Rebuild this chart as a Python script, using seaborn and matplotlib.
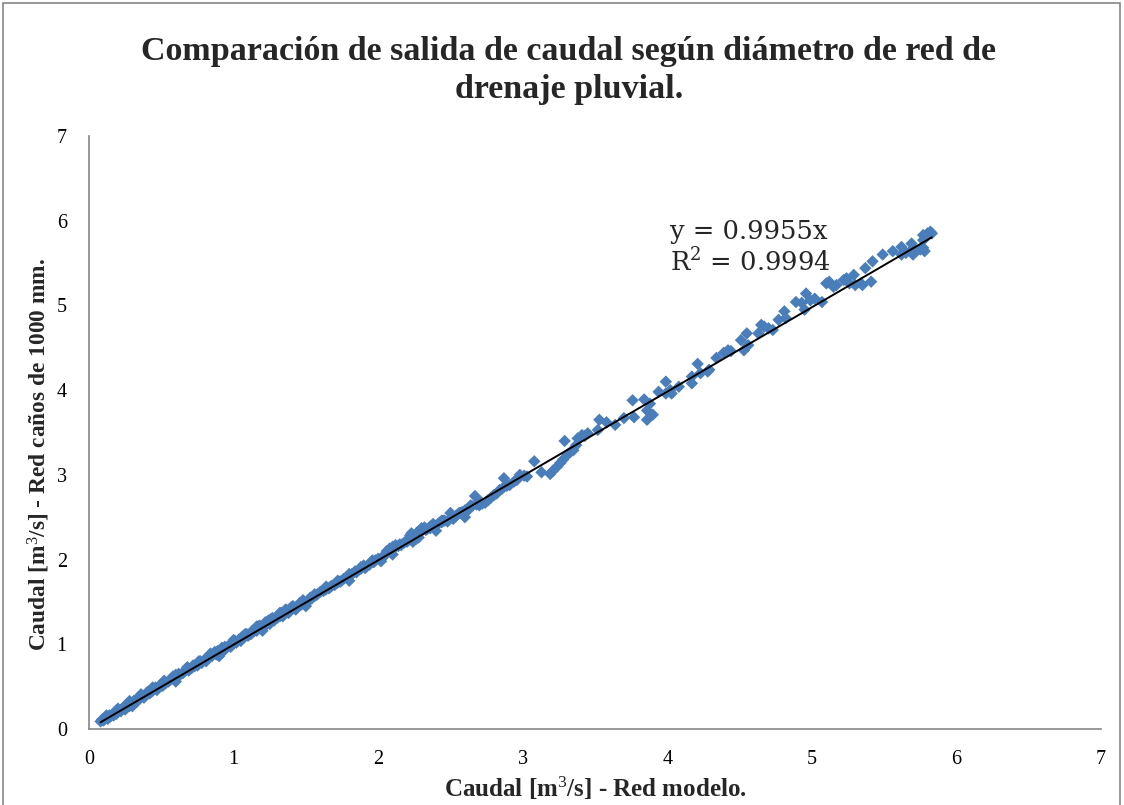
import numpy as np
import pandas as pd
import matplotlib
matplotlib.use("Agg")
import matplotlib.pyplot as plt
from matplotlib.patches import Rectangle
import seaborn as sns

# Caudal de salida: red modelo (x) frente a red con caños de 1000 mm (y), en m3/s
caudal_modelo = [
    0.08, 0.09, 0.10, 0.11, 0.12, 0.13, 0.14, 0.15, 0.16, 0.17, 0.18, 0.19, 0.20, 0.21,
    0.22, 0.23, 0.24, 0.25, 0.26, 0.27, 0.28, 0.30, 0.31, 0.32, 0.33, 0.35, 0.36, 0.38,
    0.39, 0.41, 0.42, 0.44, 0.45, 0.47, 0.48, 0.50, 0.51, 0.53, 0.55, 0.56, 0.58, 0.59,
    0.61, 0.63, 0.65, 0.66, 0.68, 0.69, 0.71, 0.73, 0.75, 0.76, 0.78, 0.80, 0.81, 0.83,
    0.85, 0.87, 0.88, 0.90, 0.92, 0.93, 0.95, 0.97, 0.98, 1.00, 1.02, 1.04, 1.05, 1.07,
    1.09, 1.10, 1.12, 1.14, 1.16, 1.18, 1.19, 1.21, 1.23, 1.25, 1.26, 1.28, 1.30, 1.32,
    1.34, 1.35, 1.37, 1.38, 1.40, 1.42, 1.43, 1.45, 1.47, 1.49, 1.51, 1.52, 1.54, 1.56,
    1.58, 1.60, 1.62, 1.64, 1.66, 1.68, 1.70, 1.72, 1.74, 1.76, 1.78, 1.80, 1.82, 1.84,
    1.86, 1.88, 1.90, 1.92, 1.94, 1.96, 1.98, 2.00, 2.02, 2.04, 2.06, 2.08, 2.10, 2.12,
    2.14, 2.16, 2.18, 2.20, 2.22, 2.23, 2.24, 2.26, 2.28, 2.30, 2.32, 2.34, 2.36, 2.38,
    2.40, 2.42, 2.44, 2.46, 2.48, 2.50, 2.52, 2.54, 2.56, 2.58, 2.60, 2.62, 2.63, 2.65,
    2.67, 2.68, 2.70, 2.72, 2.74, 2.76, 2.78, 2.80, 2.82, 2.84, 2.86,
    2.87, 2.89, 2.91, 2.94, 2.96, 2.98, 3.01, 3.03, 3.08, 3.13, 3.19, 3.21, 3.24, 3.26,
    3.28, 3.29, 3.31, 3.33, 3.35, 3.37, 3.38, 3.41, 3.43, 3.45, 3.52, 3.53, 3.58, 3.64,
    3.70, 3.76, 3.77, 3.84, 3.86, 3.86, 3.88, 3.90, 3.94, 3.99, 3.99, 4.02, 4.03, 4.08,
    4.17, 4.17, 4.21, 4.23, 4.28, 4.29, 4.34, 4.39, 4.42, 4.44, 4.51, 4.53, 4.55, 4.56,
    4.63, 4.65, 4.67, 4.70, 4.73, 4.77, 4.81, 4.82, 4.89, 4.93, 4.95, 4.96, 4.99, 5.02,
    5.07, 5.10, 5.12, 5.15, 5.17, 5.22, 5.24, 5.26, 5.29, 5.30, 5.34, 5.35, 5.41, 5.37,
    5.42, 5.49, 5.56, 5.62, 5.62, 5.65, 5.68, 5.69, 5.70, 5.72, 5.75, 5.77, 5.78, 5.77,
    5.79, 5.80, 5.82, 5.83, 5.77,
    # segunda pasada de la zona densa (eventos de menor caudal)
    0.10, 0.14, 0.19, 0.24, 0.29, 0.34, 0.40, 0.46, 0.52, 0.57, 0.62, 0.67, 0.72, 0.77,
    0.84, 0.89, 0.94, 1.01, 1.06, 1.13, 1.17, 1.22, 1.27, 1.33, 1.36, 1.41, 1.46, 1.53,
    1.57, 1.63, 1.67, 1.73, 1.79, 1.85, 1.91, 1.97, 2.03, 2.09, 2.15, 2.21, 2.27, 2.33,
    2.39, 2.45, 2.51, 2.57, 2.64, 2.71,
    # tercera pasada: borde superior e inferior de la nube
    0.12, 0.20, 0.28, 0.36, 0.44, 0.52, 0.60, 0.68, 0.76, 0.84, 0.92, 1.00, 1.08, 1.16,
    1.24, 1.32, 1.40, 1.48, 1.56, 1.64, 1.72, 1.80, 1.88, 1.96, 2.04, 2.12, 2.20, 2.28,
    2.36, 2.44, 2.52, 2.60,
    0.30, 0.60, 0.90, 1.20, 1.50, 1.80, 2.10, 2.40,
]
caudal_canos_1000 = [
    0.09, 0.11, 0.10, 0.12, 0.13, 0.12, 0.15, 0.15, 0.17, 0.16, 0.19, 0.18, 0.21, 0.22,
    0.21, 0.24, 0.25, 0.23, 0.27, 0.28, 0.27, 0.31, 0.33, 0.34, 0.32, 0.36, 0.38, 0.37,
    0.40, 0.44, 0.42, 0.45, 0.47, 0.46, 0.50, 0.53, 0.51, 0.54, 0.56, 0.58, 0.62, 0.59,
    0.62, 0.64, 0.66, 0.68, 0.72, 0.69, 0.72, 0.74, 0.75, 0.78, 0.78, 0.82, 0.80, 0.84,
    0.86, 0.91, 0.88, 0.91, 0.93, 0.92, 0.96, 0.99, 0.97, 1.01, 1.02, 1.06, 1.04, 1.08,
    1.12, 1.10, 1.12, 1.15, 1.16, 1.22, 1.19, 1.21, 1.24, 1.24, 1.30, 1.28, 1.31, 1.33,
    1.33, 1.38, 1.40, 1.37, 1.42, 1.43, 1.41, 1.46, 1.47, 1.49, 1.50, 1.52, 1.54, 1.57,
    1.59, 1.62, 1.63, 1.65, 1.66, 1.69, 1.70, 1.73, 1.74, 1.77, 1.79, 1.80, 1.83, 1.86,
    1.87, 1.89, 1.93, 1.92, 1.94, 1.98, 1.99, 2.01, 1.98, 2.04, 2.10, 2.13, 2.15, 2.17,
    2.16, 2.17, 2.20, 2.22, 2.28, 2.31, 2.21, 2.24, 2.26, 2.37, 2.38, 2.36, 2.39, 2.42,
    2.40, 2.43, 2.44, 2.46, 2.45, 2.55, 2.48, 2.52, 2.55, 2.56, 2.50, 2.58, 2.61, 2.63,
    2.75, 2.65, 2.64, 2.66, 2.67, 2.70, 2.73, 2.76, 2.78, 2.82, 2.84,
    2.96, 2.87, 2.88, 2.92, 2.94, 3.00, 2.99, 2.98, 3.16, 3.03, 3.01, 3.05, 3.10, 3.14,
    3.18, 3.40, 3.24, 3.27, 3.29, 3.35, 3.43, 3.47, 3.46, 3.49, 3.53, 3.65, 3.62, 3.59,
    3.67, 3.88, 3.68, 3.89, 3.76, 3.65, 3.84, 3.71, 3.98, 4.10, 3.96, 4.00, 3.96, 4.04,
    4.08, 4.16, 4.31, 4.20, 4.22, 4.24, 4.38, 4.44, 4.47, 4.46, 4.59, 4.47, 4.67, 4.53,
    4.67, 4.77, 4.75, 4.73, 4.71, 4.83, 4.93, 4.85, 5.04, 5.03, 4.95, 5.14, 5.06, 5.08,
    5.04, 5.26, 5.28, 5.22, 5.24, 5.30, 5.32, 5.26, 5.36, 5.24, 5.26, 5.24, 5.28, 5.44,
    5.52, 5.60, 5.64, 5.69, 5.60, 5.62, 5.64, 5.73, 5.60, 5.64, 5.66, 5.68, 5.64, 5.77,
    5.81, 5.85, 5.87, 5.85, 5.83,
    0.12, 0.16, 0.22, 0.26, 0.31, 0.37, 0.43, 0.49, 0.55, 0.59, 0.65, 0.70, 0.75, 0.80,
    0.87, 0.92, 0.97, 1.04, 1.09, 1.16, 1.21, 1.26, 1.31, 1.37, 1.41, 1.45, 1.49, 1.55,
    1.58, 1.64, 1.68, 1.74, 1.80, 1.85, 1.90, 1.97, 2.02, 2.12, 2.18, 2.23, 2.32, 2.35,
    2.40, 2.46, 2.50, 2.55, 2.64, 2.68,
    0.16, 0.24, 0.33, 0.41, 0.49, 0.57, 0.64, 0.73, 0.80, 0.89, 0.96, 1.05, 1.12, 1.21,
    1.28, 1.37, 1.44, 1.52, 1.59, 1.68, 1.75, 1.83, 1.91, 1.99, 2.05, 2.15, 2.21, 2.30,
    2.37, 2.46, 2.51, 2.58,
    0.27, 0.56, 0.86, 1.16, 1.45, 1.75, 2.06, 2.34,
]

# Linea de tendencia lineal por el origen
pendiente = 0.9955
r_cuadrado = 0.9994

x_ticks = [0, 1, 2, 3, 4, 5, 6, 7]
y_ticks = [0, 1, 2, 3, 4, 5, 6, 7]

titulo = "Comparación de salida de caudal según diámetro de red de\ndrenaje pluvial."
etiqueta_x = "Caudal [m$^3$/s] - Red modelo."
etiqueta_y = "Caudal [m$^3$/s] - Red caños de 1000 mm."

sns.set_theme(style="white")
plt.rcParams["font.family"] = ["Liberation Serif", "DejaVu Serif"]
plt.rcParams["mathtext.fontset"] = "custom"
plt.rcParams["mathtext.rm"] = "Liberation Serif"
plt.rcParams["mathtext.it"] = "Liberation Serif:italic"
plt.rcParams["mathtext.bf"] = "Liberation Serif:bold"

datos = pd.DataFrame({"modelo": caudal_modelo, "canos": caudal_canos_1000})
x_min, x_max = min(caudal_modelo), max(caudal_modelo)
tendencia = pd.DataFrame({"modelo": [x_min, x_max]})
tendencia["canos"] = pendiente * tendencia["modelo"]

fig = plt.figure(figsize=(11.24, 8.05), dpi=100)
ax = fig.add_axes([0.0792, 0.0944, 0.9003, 0.7367])

gris = "#868686"
sns.scatterplot(data=datos, x="modelo", y="canos", marker="D", s=40,
                color="#4A7EBB", edgecolor="none", linewidth=0, ax=ax, zorder=2)
sns.lineplot(data=tendencia, x="modelo", y="canos", color="black",
             linewidth=1.4, ax=ax, zorder=3)

ax.set_xlim(0, 7)
ax.set_ylim(0, 7)
ax.set_xticks(x_ticks)
ax.set_yticks(y_ticks)
ax.tick_params(axis="both", which="major", labelsize=14.5, colors="black",
               length=5, width=1, direction="out")
ax.tick_params(axis="x", pad=10)
ax.tick_params(axis="y", pad=11)
ax.tick_params(axis="both", color=gris)

for lado in ["top", "right"]:
    ax.spines[lado].set_visible(False)
for lado in ["left", "bottom"]:
    ax.spines[lado].set_color(gris)
    ax.spines[lado].set_linewidth(1.2)

ax.set_xlabel(etiqueta_x, fontsize=18, fontweight="bold", labelpad=4)
ax.set_ylabel(etiqueta_y, fontsize=16.8, fontweight="bold")
ax.yaxis.set_label_coords(-0.0366, 0.462)

fig.text(0.506, 0.912, titulo, ha="center", va="center", fontsize=24.5,
         fontweight="bold", linespacing=1.3)

eq_font = ["DejaVu Serif"]
ax.text(4.02, 5.87, f"y = {pendiente}x", fontsize=18.5, ha="left", va="center",
        family=eq_font)
ax.text(4.02, 5.51, f"R$^2$ = {r_cuadrado}", fontsize=18.5, ha="left", va="center",
        family=eq_font, math_fontfamily="dejavuserif")

# Marco exterior del grafico
fig.patches.append(Rectangle((0.003, -0.01), 0.993, 1.006, transform=fig.transFigure,
                             fill=False, edgecolor=gris, linewidth=1.2))

fig.savefig("out.png", dpi=100)
